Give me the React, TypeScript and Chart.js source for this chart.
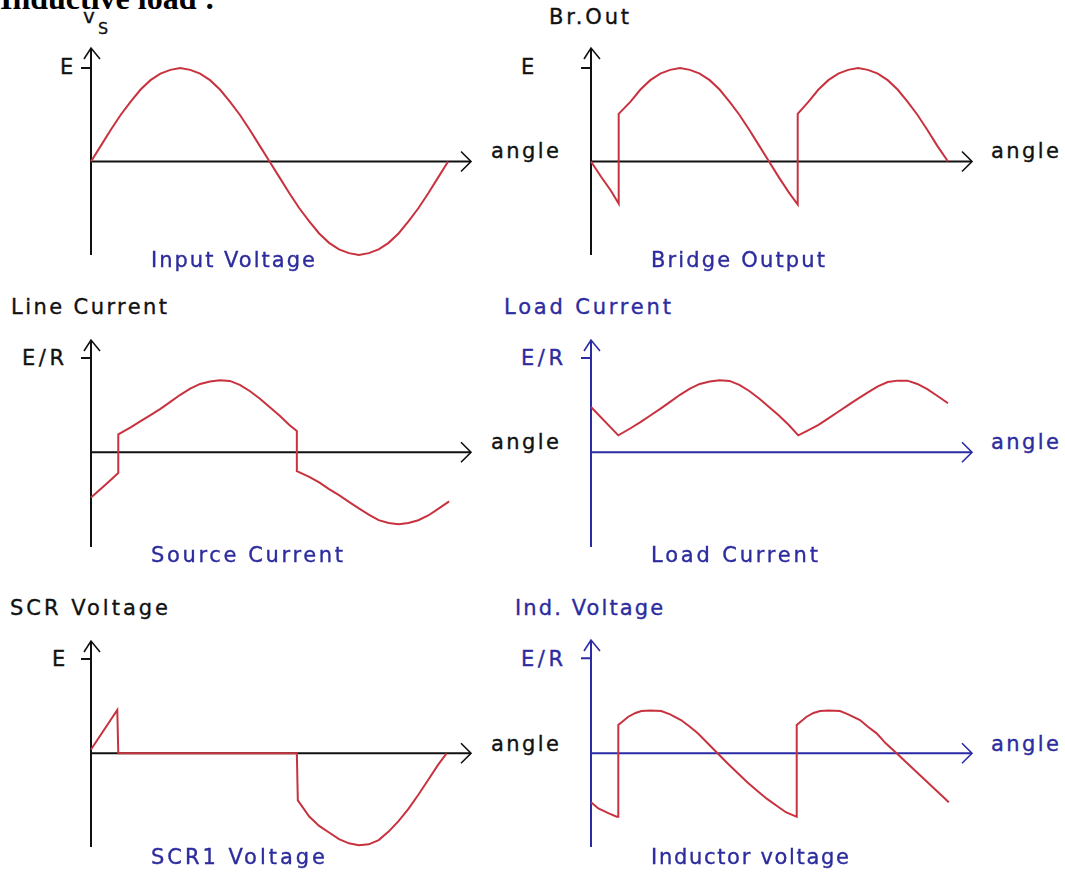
import React, { useEffect, useRef } from "react";
import { Chart, registerables } from "chart.js";

Chart.register(...registerables);

// ---------- DATA (angles in degrees, values in units of E or E/R) ----------
const inputAngles = [0, 10, 20, 30, 40, 50, 60, 70, 80, 90, 100, 110, 120, 130, 140, 150, 160, 170, 180, 190, 200, 210, 220, 230, 240, 250, 260, 270, 280, 290, 300, 310, 320, 330, 340, 350, 360];
const inputVoltage = [0, 0.17, 0.34, 0.5, 0.64, 0.77, 0.87, 0.94, 0.98, 1, 0.98, 0.94, 0.87, 0.77, 0.64, 0.5, 0.34, 0.17, 0, -0.17, -0.34, -0.5, -0.64, -0.77, -0.87, -0.94, -0.98, -1, -0.98, -0.94, -0.87, -0.77, -0.64, -0.5, -0.34, -0.17, 0];

const bridgeAngles = [0, 10, 20, 28, 28, 40, 50, 60, 70, 80, 90, 100, 110, 120, 130, 140, 150, 160, 170, 180, 190, 200, 209, 209, 220, 230, 240, 250, 260, 270, 280, 290, 300, 310, 320, 330, 340, 350, 361];
const bridgeOutput = [0, -0.16, -0.31, -0.45, 0.51, 0.64, 0.77, 0.87, 0.94, 0.98, 1, 0.98, 0.94, 0.87, 0.77, 0.64, 0.5, 0.34, 0.17, 0, -0.17, -0.33, -0.46, 0.51, 0.64, 0.77, 0.87, 0.94, 0.98, 1, 0.98, 0.94, 0.87, 0.77, 0.64, 0.5, 0.34, 0.17, 0];

const sourceAngles = [0, 14, 27.5, 27.5, 40, 50, 60, 70, 80, 90, 100, 110, 120, 130, 140, 150, 160, 170, 180, 190, 200, 207.5, 207.5, 220, 230, 240, 250, 260, 270, 280, 290, 300, 310, 320, 330, 340, 350, 361];
const sourceCurrent = [-0.48, -0.35, -0.22, 0.19, 0.265, 0.33, 0.395, 0.46, 0.535, 0.61, 0.675, 0.725, 0.75, 0.763, 0.757, 0.715, 0.65, 0.57, 0.48, 0.39, 0.29, 0.226, -0.2, -0.26, -0.32, -0.39, -0.455, -0.525, -0.595, -0.66, -0.72, -0.75, -0.762, -0.75, -0.72, -0.67, -0.6, -0.52];

const loadAngles = [0, 27.6, 40, 50, 60, 70, 80, 90, 100, 110, 120, 130, 140, 150, 160, 170, 180, 190, 200, 209.6, 220, 230, 240, 250, 260, 270, 280, 290, 300, 310, 320, 330, 340, 350, 361];
const loadCurrent = [0.48, 0.18, 0.255, 0.32, 0.39, 0.46, 0.535, 0.61, 0.675, 0.725, 0.75, 0.763, 0.757, 0.715, 0.65, 0.57, 0.48, 0.39, 0.29, 0.18, 0.235, 0.29, 0.36, 0.43, 0.5, 0.57, 0.635, 0.7, 0.745, 0.76, 0.76, 0.725, 0.67, 0.6, 0.52];

const scrAngles = [0, 26.5, 27.5, 207.5, 208.5, 220, 230, 240, 250, 260, 270, 280, 290, 300, 310, 320, 330, 340, 350, 358.5];
const scrVoltage = [0.04, 0.46, 0, 0, -0.5, -0.67, -0.77, -0.84, -0.91, -0.955, -0.975, -0.965, -0.92, -0.83, -0.72, -0.59, -0.44, -0.28, -0.12, 0];

const indAngles = [0, 7.4, 17.5, 26, 27.6, 27.6, 37.7, 45, 51, 60, 71, 80, 91, 100, 108, 118, 128, 138, 148.5, 158, 168.6, 178, 188.8, 197, 204, 208, 208, 218, 225, 231.6, 240, 251.8, 260, 272, 280, 288.8, 298, 309, 361.8];
const indVoltage = [-0.516, -0.58, -0.63, -0.667, -0.667, 0.298, 0.385, 0.425, 0.445, 0.45, 0.445, 0.41, 0.35, 0.28, 0.21, 0.105, 0, -0.105, -0.21, -0.305, -0.4, -0.48, -0.56, -0.62, -0.65, -0.667, 0.298, 0.385, 0.425, 0.445, 0.45, 0.445, 0.41, 0.35, 0.28, 0.21, 0.105, 0, -0.516];

// ---------- STYLE ----------
const RED = "#c8323f";
const BLACK = "#111111";
const BLUE = "#2b2ba6";
const TEXT_BLUE = "#2c2c9e";
const FONT = '"DejaVu Sans", Verdana, sans-serif';
const SIZE = 21;

type Frame = { x0: number; tip: number; top: number; bottom: number; axisY: number; unitY: number; degPx: number };

const arrowAxes = {
  id: "arrowAxes",
  beforeDatasetsDraw(chart: any, _args: any, opts: any) {
    const { ctx, chartArea, scales } = chart;
    const { right, top, bottom } = chartArea;
    const ox = scales.x.getPixelForValue(0);
    const oy = scales.y.getPixelForValue(0);
    const ey = scales.y.getPixelForValue(1);
    ctx.save();
    ctx.strokeStyle = opts.color;
    ctx.lineWidth = 2;
    ctx.beginPath();
    ctx.moveTo(ox, bottom);
    ctx.lineTo(ox, top);
    ctx.moveTo(ox, oy);
    ctx.lineTo(right, oy);
    ctx.moveTo(ox - 10, ey);
    ctx.lineTo(ox, ey);
    ctx.stroke();
    ctx.lineWidth = 1.6;
    ctx.beginPath();
    ctx.moveTo(ox - 7, top + 11);
    ctx.lineTo(ox, top);
    ctx.lineTo(ox + 9, top + 11);
    ctx.moveTo(right - 10, oy - 10);
    ctx.lineTo(right, oy);
    ctx.lineTo(right - 10, oy + 10);
    ctx.stroke();
    ctx.restore();
  },
};

const PAD = 14;

function Panel({ angles, values, frame, axisColor }: { angles: number[]; values: number[]; frame: Frame; axisColor: string }) {
  const ref = useRef<HTMLCanvasElement>(null);
  const w = frame.tip - frame.x0 + 2 * PAD;
  const h = frame.bottom - frame.top + 2 * PAD;
  useEffect(() => {
    const unitPx = frame.axisY - frame.unitY;
    const chart = new Chart(ref.current as HTMLCanvasElement, {
      type: "line",
      data: {
        datasets: [
          {
            data: angles.map((a, i) => ({ x: a, y: values[i] })),
            borderColor: RED,
            borderWidth: 2,
            pointRadius: 0,
            tension: 0,
            fill: false,
            clip: false as any,
          },
        ],
      },
      options: {
        animation: false,
        responsive: false,
        maintainAspectRatio: false,
        events: [],
        layout: { padding: PAD },
        plugins: {
          legend: { display: false },
          tooltip: { enabled: false },
          title: { display: false },
          arrowAxes: { color: axisColor },
        } as any,
        scales: {
          x: { type: "linear", display: false, min: 0, max: (frame.tip - frame.x0) / frame.degPx },
          y: {
            type: "linear",
            display: false,
            min: -(frame.bottom - frame.axisY) / unitPx,
            max: (frame.axisY - frame.top) / unitPx,
          },
        },
      },
      plugins: [arrowAxes as any],
    });
    return () => chart.destroy();
  }, []);
  return (
    <canvas
      ref={ref}
      width={w}
      height={h}
      style={{ position: "absolute", left: frame.x0 - PAD, top: frame.top - PAD, width: w, height: h }}
    />
  );
}

let measureCtx: CanvasRenderingContext2D | null = null;
function textWidth(t: string) {
  if (!measureCtx) measureCtx = document.createElement("canvas").getContext("2d");
  if (!measureCtx) return t.length * SIZE * 0.6;
  measureCtx.font = `${SIZE}px ${FONT}`;
  return measureCtx.measureText(t).width;
}

function Label({ t, x, b, c, w }: { t: string; x: number; b: number; c: string; w: number }) {
  const natural = textWidth(t);
  const spacing = t.length > 1 ? Math.max(0, (w - natural) / (t.length - 1)) : 0;
  return (
    <div
      style={{
        position: "absolute",
        left: x,
        top: b - Math.round(SIZE * 0.848),
        font: `${SIZE}px ${FONT}`,
        lineHeight: `${SIZE}px`,
        letterSpacing: `${spacing.toFixed(2)}px`,
        color: c,
        whiteSpace: "nowrap",
        WebkitTextStroke: `0.35px ${c}`,
      }}
    >
      {t}
    </div>
  );
}

const labels = [
  { t: "E", x: 60, b: 75, c: BLACK, w: 14 },
  { t: "angle", x: 491, b: 159, c: BLACK, w: 68 },
  { t: "Input Voltage", x: 151, b: 268, c: TEXT_BLUE, w: 164 },
  { t: "Br.Out", x: 549, b: 25, c: BLACK, w: 80 },
  { t: "E", x: 521, b: 75, c: BLACK, w: 14 },
  { t: "angle", x: 991, b: 159, c: BLACK, w: 68 },
  { t: "Bridge Output", x: 651, b: 268, c: TEXT_BLUE, w: 174 },
  { t: "Line Current", x: 11, b: 315, c: BLACK, w: 156 },
  { t: "E/R", x: 22, b: 366, c: BLACK, w: 42 },
  { t: "angle", x: 491, b: 450, c: BLACK, w: 68 },
  { t: "Source Current", x: 151, b: 563, c: TEXT_BLUE, w: 192 },
  { t: "Load Current", x: 504, b: 315, c: TEXT_BLUE, w: 167 },
  { t: "E/R", x: 521, b: 366, c: TEXT_BLUE, w: 42 },
  { t: "angle", x: 991, b: 450, c: TEXT_BLUE, w: 68 },
  { t: "Load Current", x: 651, b: 563, c: TEXT_BLUE, w: 167 },
  { t: "SCR Voltage", x: 10, b: 616, c: BLACK, w: 158 },
  { t: "E", x: 52, b: 667, c: BLACK, w: 14 },
  { t: "angle", x: 491, b: 752, c: BLACK, w: 68 },
  { t: "SCR1 Voltage", x: 151, b: 865, c: TEXT_BLUE, w: 174 },
  { t: "Ind. Voltage", x: 515, b: 616, c: TEXT_BLUE, w: 148 },
  { t: "E/R", x: 521, b: 667, c: TEXT_BLUE, w: 42 },
  { t: "angle", x: 991, b: 752, c: TEXT_BLUE, w: 68 },
  { t: "Inductor voltage", x: 651, b: 865, c: TEXT_BLUE, w: 198 },
];

const frames: Record<string, Frame> = {
  input: { x0: 91, tip: 471, top: 48, bottom: 255, axisY: 161.5, unitY: 68, degPx: 0.992 },
  bridge: { x0: 591, tip: 972, top: 48, bottom: 255, axisY: 161.5, unitY: 68, degPx: 0.989 },
  source: { x0: 91, tip: 471, top: 340, bottom: 547, axisY: 452.3, unitY: 358, degPx: 0.992 },
  load: { x0: 591, tip: 972, top: 340, bottom: 547, axisY: 452.3, unitY: 358, degPx: 0.989 },
  scr: { x0: 91, tip: 471, top: 641, bottom: 847, axisY: 753.3, unitY: 659, degPx: 0.992 },
  ind: { x0: 591, tip: 972, top: 640, bottom: 847, axisY: 753.3, unitY: 658.3, degPx: 0.989 },
};

export default function App() {
  return (
    <div
      style={{
        position: "absolute",
        left: 0,
        top: 0,
        width: 1065,
        height: 877,
        overflow: "hidden",
        background: "#ffffff",
      }}
    >
      <div
        style={{
          position: "absolute",
          left: 0,
          top: -18,
          font: 'bold 32px "Liberation Serif", "Times New Roman", serif',
          lineHeight: "32px",
          color: "#000",
          whiteSpace: "nowrap",
        }}
      >
        Inductive load :
      </div>
      <div style={{ position: "absolute", left: 83, top: 23 - 17, font: `20px ${FONT}`, lineHeight: "20px", color: BLACK, WebkitTextStroke: `0.3px ${BLACK}` }}>v</div>
      <div style={{ position: "absolute", left: 98, top: 35 - 14, font: `16px ${FONT}`, lineHeight: "16px", color: BLACK, WebkitTextStroke: `0.3px ${BLACK}` }}>S</div>

      <Panel angles={inputAngles} values={inputVoltage} frame={frames.input} axisColor={BLACK} />
      <Panel angles={bridgeAngles} values={bridgeOutput} frame={frames.bridge} axisColor={BLACK} />
      <Panel angles={sourceAngles} values={sourceCurrent} frame={frames.source} axisColor={BLACK} />
      <Panel angles={loadAngles} values={loadCurrent} frame={frames.load} axisColor={BLUE} />
      <Panel angles={scrAngles} values={scrVoltage} frame={frames.scr} axisColor={BLACK} />
      <Panel angles={indAngles} values={indVoltage} frame={frames.ind} axisColor={BLUE} />

      {labels.map((l, i) => (
        <Label key={i} t={l.t} x={l.x} b={l.b} c={l.c} w={l.w} />
      ))}
    </div>
  );
}
